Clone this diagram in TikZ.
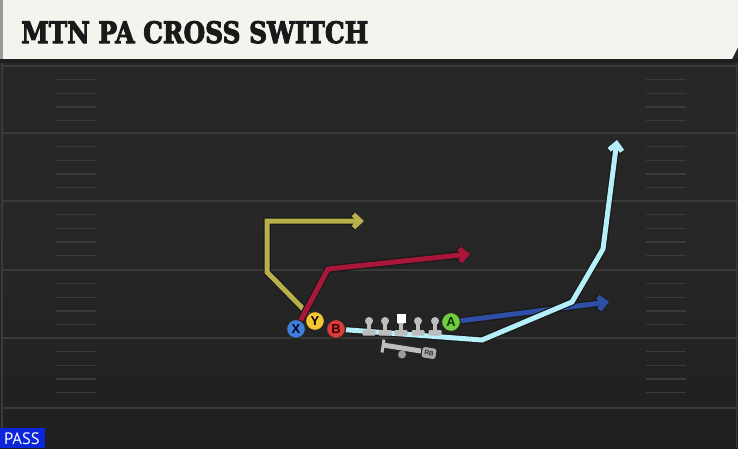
\documentclass[tikz,border=0pt]{standalone}
\usepackage{fontspec}
\usetikzlibrary{arrows.meta}
\usetikzlibrary{calc}
\newfontfamily\titlefont{DejaVu Serif}[BoldFeatures={FakeBold=3.5}]
\newfontfamily\passfont{PT Sans}
\newfontfamily\playerfont{Liberation Sans}
\definecolor{fieldbg}{HTML}{272727}
\definecolor{fieldlow}{HTML}{1F1F1F}
\definecolor{yardgray}{HTML}{3A3A3A}
\definecolor{titlecream}{HTML}{F5F3EE}
\definecolor{passblue}{HTML}{0B27D9}
\definecolor{olgray}{HTML}{BDBDBD}
\definecolor{rbgray}{HTML}{9A9A9A}
\definecolor{ycol}{HTML}{B8B04A}
\definecolor{xcol}{HTML}{A8173A}
\definecolor{bcol}{HTML}{B5EFF9}
\definecolor{acol}{HTML}{2F4FA6}
\definecolor{xfill}{HTML}{3F7FD9}
\definecolor{yfill}{HTML}{F5C533}
\definecolor{bfill}{HTML}{DD3B3B}
\definecolor{afill}{HTML}{72CC3F}
\begin{document}
\begin{tikzpicture}[x=1pt,y=-1pt,
  route/.style={line width=5pt, -{Straight Barb[length=7pt,width=13pt]}, preaction={draw=black!90, line width=7.5pt}},
  player/.style={circle, draw=black!85, line width=1.2pt, minimum size=19pt, inner sep=0pt, font=\playerfont\bfseries\fontsize{13}{13}\selectfont},
  yardline/.style={yardgray, line width=1.6pt},
  hashline/.style={yardgray, line width=1.3pt}]
\useasboundingbox (0,0) rectangle (738,448);
\shade[top color=fieldbg, bottom color=fieldlow, middle color=fieldbg] (0,0) rectangle (738,448);
\foreach \y in {66,133,201,270,338,408} {
\draw[yardline] (2,\y)--(738,\y);
}
\foreach \y in {66,133,201,270,338} {
\foreach \k [evaluate=\k as \yy using \y+13.7*\k] in {1,...,4} {
 \draw[hashline] (56,\yy)--(96,\yy);
 \draw[hashline] (646,\yy)--(686,\yy);
}
}
\draw[yardline] (2,60)--(2,428);
\draw[yardline] (736.5,60)--(736.5,448);
\fill[titlecream] (0,0)--(738,0)--(738,47)--(732,59)--(0,59)--cycle;
\fill[black!40] (0,0) rectangle (3,59);
\fill[black!88] (0,59) rectangle (738,63);
\node[anchor=base west, inner sep=0, text=black!90, font=\titlefont\bfseries\fontsize{29.5}{30}\selectfont] (title) at (21,43) {\resizebox{347pt}{\height}{MTN PA CROSS SWITCH}};
\fill[passblue] (0,428) rectangle (45,448);
\node[anchor=base west, inner sep=0, text=white, font=\passfont\fontsize{16.5}{16.5}\selectfont] (pass) at (4,444.5) {PASS};
\coordinate (X) at (296,329);
\coordinate (Y) at (315,321);
\coordinate (B) at (336,329);
\coordinate (A) at (451,322);
\draw[route, ycol] (Y)--(267,272)--(267,221)--(364,221);
\draw[route, xcol] (X)--(328,269)--(470,254);
\draw[route, acol] (A)--(609,302);
\draw[route, bcol] (B)--(482,340)--(572,302)--(603,249)--(617,140);
\foreach \x in {369,385,401,418,435} {
 \fill[olgray] (\x-2,321) rectangle (\x+2,331);
 \fill[olgray, rounded corners=1] (\x-6.5,330) rectangle (\x+6.5,335.5);
 \fill[olgray] (\x,321) circle (4);
}
\fill[white] (396.5,314) rectangle (405.5,322.5);
\draw[olgray, line width=3pt] (384,339.5)--(382,352.5);
\draw[olgray, line width=5pt] (383,345)--(421,351);
\fill[rbgray] (402,354.5) circle (4);
\node[rotate=-9, fill=olgray!90!black, rounded corners=2.5, inner sep=1.5pt, minimum width=14pt, minimum height=10.5pt, text=black!80, font=\playerfont\bfseries\fontsize{6.5}{6.5}\selectfont] (rb) at (429,353) {RB};
\node[player, fill=xfill, text=black!85!blue] (x) at (X) {X};
\node[player, fill=yfill, text=black] (y) at (Y) {Y};
\node[player, fill=bfill, text=black!80!red] (b) at (B) {B};
\node[player, fill=afill, text=black!80!green] (a) at (A) {A};
\end{tikzpicture}
\end{document}
